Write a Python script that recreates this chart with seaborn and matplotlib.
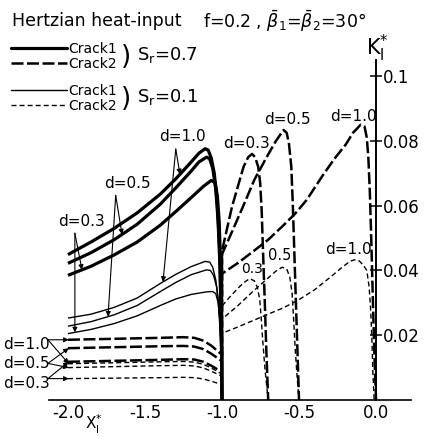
import numpy as np
import matplotlib
matplotlib.use("Agg")
import matplotlib.pyplot as plt
import seaborn as sns
from matplotlib.lines import Line2D

# ---------------- data ----------------
# Crack 1, heat source left of crack 1 (x from -2.0 to -1.0)
c1_x_s07_d10 = [-2.0, -1.85, -1.7, -1.55, -1.4, -1.3, -1.2, -1.15, -1.11, -1.09, -1.07, -1.05, -1.03, -1.015, -1.005, -1.0]
c1_y_s07_d10 = [0.0449, 0.0488, 0.0530, 0.0578, 0.0636, 0.0683, 0.0735, 0.0762, 0.0776, 0.0772, 0.0748, 0.0700, 0.0605, 0.0460, 0.0250, 0.0]
c1_x_s07_d05 = [-2.0, -1.85, -1.7, -1.55, -1.4, -1.3, -1.2, -1.15, -1.1, -1.08, -1.06, -1.04, -1.025, -1.012, -1.004, -1.0]
c1_y_s07_d05 = [0.0422, 0.0455, 0.0495, 0.0543, 0.0605, 0.0655, 0.0707, 0.0735, 0.0750, 0.0745, 0.0715, 0.0650, 0.0550, 0.0400, 0.0200, 0.0]
c1_x_s07_d03 = [-2.0, -1.85, -1.7, -1.55, -1.4, -1.3, -1.2, -1.12, -1.07, -1.045, -1.03, -1.018, -1.008, -1.002, -1.0]
c1_y_s07_d03 = [0.0385, 0.0413, 0.0448, 0.0488, 0.0540, 0.0582, 0.0625, 0.0660, 0.0678, 0.0672, 0.0630, 0.0550, 0.0400, 0.0200, 0.0]

c1_x_s01_d10 = [-2.0, -1.85, -1.7, -1.55, -1.4, -1.3, -1.2, -1.11, -1.08, -1.06, -1.04, -1.025, -1.013, -1.004, -1.0]
c1_y_s01_d10 = [0.0253, 0.0265, 0.0286, 0.0315, 0.0360, 0.0388, 0.0412, 0.0428, 0.0426, 0.0410, 0.0370, 0.0310, 0.0220, 0.0110, 0.0]
c1_x_s01_d05 = [-2.0, -1.85, -1.7, -1.55, -1.4, -1.3, -1.2, -1.1, -1.075, -1.055, -1.035, -1.02, -1.01, -1.003, -1.0]
c1_y_s01_d05 = [0.0228, 0.0242, 0.0263, 0.0292, 0.0335, 0.0363, 0.0387, 0.0402, 0.0400, 0.0385, 0.0350, 0.0290, 0.0210, 0.0100, 0.0]
c1_x_s01_d03 = [-2.0, -1.85, -1.7, -1.55, -1.4, -1.3, -1.2, -1.1, -1.06, -1.04, -1.025, -1.014, -1.006, -1.001, -1.0]
c1_y_s01_d03 = [0.0205, 0.0218, 0.0236, 0.0260, 0.0292, 0.0312, 0.0326, 0.0334, 0.0335, 0.0328, 0.0300, 0.0250, 0.0170, 0.0060, 0.0]

# Crack 2 (left part -2.0 .. -1.0, then right part -1.0 .. drop)
c2_x_s07_d10 = [-2.0, -1.8, -1.6, -1.4, -1.25, -1.18, -1.12, -1.07, -1.03, -1.0,
                -1.0, -0.9, -0.8, -0.7, -0.6, -0.526, -0.45, -0.344, -0.27, -0.195, -0.15, -0.1, -0.075, -0.06, -0.05, -0.04, -0.03, -0.02, -0.01, 0.0]
c2_y_s07_d10 = [0.0186, 0.0188, 0.0190, 0.0192, 0.0194, 0.0192, 0.0183, 0.0168, 0.0152, 0.0140,
                0.0390, 0.0422, 0.0458, 0.0495, 0.0540, 0.0575, 0.0618, 0.0695, 0.0745, 0.0790, 0.0825, 0.0850, 0.0845, 0.0810, 0.0750, 0.0640, 0.0480, 0.0300, 0.0130, 0.0]
c2_x_s07_d05 = [-2.0, -1.8, -1.6, -1.4, -1.25, -1.18, -1.12, -1.07, -1.03, -1.0,
                -1.0, -0.93, -0.864, -0.79, -0.71, -0.65, -0.6, -0.58, -0.565, -0.55, -0.54, -0.53, -0.52, -0.51, -0.5]
c2_y_s07_d05 = [0.0160, 0.0162, 0.0164, 0.0166, 0.0167, 0.0165, 0.0157, 0.0143, 0.0130, 0.0120,
                0.0450, 0.0525, 0.0597, 0.0680, 0.0750, 0.0800, 0.0834, 0.0825, 0.0790, 0.0720, 0.0600, 0.0450, 0.0300, 0.0150, 0.0]
c2_x_s07_d03 = [-2.0, -1.8, -1.6, -1.4, -1.25, -1.18, -1.12, -1.07, -1.03, -1.0,
                -1.0, -0.935, -0.86, -0.83, -0.805, -0.785, -0.765, -0.752, -0.742, -0.733, -0.722, -0.712, -0.7]
c2_y_s07_d03 = [0.0118, 0.0120, 0.0122, 0.0124, 0.0126, 0.0125, 0.0118, 0.0106, 0.0095, 0.0088,
                0.0460, 0.0597, 0.0720, 0.0750, 0.0760, 0.0750, 0.0720, 0.0670, 0.0580, 0.0450, 0.0300, 0.0150, 0.0]

c2_x_s01_d10 = [-2.0, -1.8, -1.6, -1.4, -1.25, -1.18, -1.12, -1.07, -1.03, -1.0,
                -1.0, -0.9, -0.8, -0.7, -0.6, -0.5, -0.4, -0.3, -0.22, -0.17, -0.14, -0.11, -0.08, -0.06, -0.045, -0.035, -0.027, -0.02, -0.012]
c2_y_s01_d10 = [0.0112, 0.0114, 0.0116, 0.0118, 0.0119, 0.0117, 0.0110, 0.0099, 0.0088, 0.0080,
                0.0206, 0.0225, 0.0245, 0.0265, 0.0285, 0.0310, 0.0340, 0.0378, 0.0410, 0.0428, 0.0433, 0.0430, 0.0415, 0.0400, 0.0350, 0.0280, 0.0190, 0.0080, 0.0]
c2_x_s01_d05 = [-2.0, -1.8, -1.6, -1.4, -1.25, -1.18, -1.12, -1.07, -1.03, -1.0,
                -1.0, -0.9, -0.8, -0.7, -0.65, -0.61, -0.58, -0.56, -0.545, -0.535, -0.525, -0.512, -0.5]
c2_y_s01_d05 = [0.0100, 0.0102, 0.0104, 0.0106, 0.0107, 0.0105, 0.0099, 0.0089, 0.0080, 0.0073,
                0.0250, 0.0290, 0.0335, 0.0377, 0.0398, 0.0410, 0.0405, 0.0380, 0.0330, 0.0250, 0.0160, 0.0070, 0.0]
c2_x_s01_d03 = [-2.0, -1.8, -1.6, -1.4, -1.25, -1.18, -1.12, -1.07, -1.03, -1.0,
                -1.0, -0.95, -0.9, -0.86, -0.82, -0.79, -0.77, -0.755, -0.745, -0.735, -0.72, -0.7]
c2_y_s01_d03 = [0.0066, 0.0067, 0.0068, 0.0069, 0.0070, 0.0069, 0.0065, 0.0058, 0.0052, 0.0048,
                0.0290, 0.0318, 0.0343, 0.0362, 0.0375, 0.0368, 0.0348, 0.0310, 0.0250, 0.0180, 0.0090, 0.0]

x_ticks = [-2.0, -1.5, -1.0, -0.5, 0.0]
x_tick_labels = ["-2.0", "-1.5", "-1.0", "-0.5", "0.0"]
y_ticks = [0.02, 0.04, 0.06, 0.08, 0.1]
y_tick_labels = ["0.02", "0.04", "0.06", "0.08", "0.1"]

# ---------------- styling ----------------
sns.set_theme(style="white")
plt.rcParams["font.family"] = ["DejaVu Sans"]
plt.rcParams["mathtext.fontset"] = "dejavusans"
plt.rcParams["axes.unicode_minus"] = False
for k in ["text.color", "axes.labelcolor", "xtick.color", "ytick.color", "axes.edgecolor"]:
    plt.rcParams[k] = "black"

W, H = 426, 437
fig = plt.figure(figsize=(W / 100, H / 100), dpi=100)
fig.patch.set_facecolor("white")
ax = fig.add_axes([49 / W, (H - 400) / H, (411 - 49) / W, (400 - 60) / H])
ax.set_facecolor("white")

STY = {
    "c1_s07": dict(lw=2.3, linestyle="-"),
    "c1_s01": dict(lw=1.0, linestyle="-"),
    "c2_s07": dict(lw=1.8, linestyle=(0, (4.8, 1.4))),
    "c2_s01": dict(lw=1.0, linestyle=(0, (3.6, 2.2))),
}

curves = [
    (c1_x_s07_d10, c1_y_s07_d10, "c1_s07"),
    (c1_x_s07_d05, c1_y_s07_d05, "c1_s07"),
    (c1_x_s07_d03, c1_y_s07_d03, "c1_s07"),
    (c1_x_s01_d10, c1_y_s01_d10, "c1_s01"),
    (c1_x_s01_d05, c1_y_s01_d05, "c1_s01"),
    (c1_x_s01_d03, c1_y_s01_d03, "c1_s01"),
    (c2_x_s07_d10, c2_y_s07_d10, "c2_s07"),
    (c2_x_s07_d05, c2_y_s07_d05, "c2_s07"),
    (c2_x_s07_d03, c2_y_s07_d03, "c2_s07"),
    (c2_x_s01_d10, c2_y_s01_d10, "c2_s01"),
    (c2_x_s01_d05, c2_y_s01_d05, "c2_s01"),
    (c2_x_s01_d03, c2_y_s01_d03, "c2_s01"),
]
for xs, ys, st in curves:
    sns.lineplot(x=xs, y=ys, ax=ax, sort=False, estimator=None, color="black",
                 solid_capstyle="butt", dash_capstyle="butt", **STY[st])

ax.set_xlim(-2.123, 0.227)
ax.set_ylim(0, 0.105)

ax.spines["top"].set_visible(False)
ax.spines["left"].set_visible(False)
ax.spines["right"].set_position(("data", 0))
ax.spines["right"].set_linewidth(1.4)
ax.spines["bottom"].set_linewidth(1.2)
ax.yaxis.set_ticks_position("right")
ax.set_xticks(x_ticks)
ax.set_xticklabels(x_tick_labels)
ax.set_yticks(y_ticks)
ax.set_yticklabels(y_tick_labels)
ax.tick_params(axis="x", direction="in", length=10, width=1.1, pad=3, labelsize=12)
ax.tick_params(axis="y", direction="inout", length=8, width=1.1, pad=1, labelsize=12)
ax.set_xlabel("")
ax.set_ylabel("")
ax.grid(False)

# ---------------- annotations ----------------
def cy(xs, ys, x):
    return float(np.interp(x, xs, ys))

arrow = dict(arrowstyle="-|>", lw=0.8, color="black", mutation_scale=7, shrinkA=0, shrinkB=0)
lab_fs = 11

def label_with_arrows(text, pos, start, targets, fs=lab_fs):
    ax.text(pos[0], pos[1], text, fontsize=fs, ha="center", va="center", clip_on=False)
    for t in targets:
        ax.annotate("", xy=t, xytext=start, arrowprops=arrow, annotation_clip=False)

label_with_arrows("d=1.0", (-1.26, 0.0815), (-1.30, 0.0775),
                  [(-1.273, cy(c1_x_s07_d10, c1_y_s07_d10, -1.273)),
                   (-1.383, cy(c1_x_s01_d10, c1_y_s01_d10, -1.383))])
label_with_arrows("d=0.5", (-1.617, 0.0670), (-1.69, 0.0632),
                  [(-1.649, cy(c1_x_s07_d05, c1_y_s07_d05, -1.649)),
                   (-1.74, cy(c1_x_s01_d05, c1_y_s01_d05, -1.74))])
label_with_arrows("d=0.3", (-1.909, 0.0550), (-1.955, 0.0515),
                  [(-1.909, cy(c1_x_s07_d03, c1_y_s07_d03, -1.909)),
                   (-1.955, cy(c1_x_s01_d03, c1_y_s01_d03, -1.955))])

label_with_arrows("d=1.0", (-2.27, 0.0172), (-2.13, 0.0186),
                  [(-1.995, c2_y_s07_d10[0]), (-1.995, c2_y_s01_d10[0])])
label_with_arrows("d=0.5", (-2.27, 0.0113), (-2.13, 0.0113),
                  [(-1.995, c2_y_s07_d05[0]), (-1.995, c2_y_s01_d05[0])])
label_with_arrows("d=0.3", (-2.27, 0.0052), (-2.13, 0.0066),
                  [(-1.995, c2_y_s07_d03[0]), (-1.995, c2_y_s01_d03[0])])

ax.text(-0.844, 0.0792, "d=0.3", fontsize=lab_fs, ha="center", va="center")
ax.text(-0.578, 0.0866, "d=0.5", fontsize=lab_fs, ha="center", va="center")
ax.text(-0.149, 0.0875, "d=1.0", fontsize=lab_fs, ha="center", va="center")
ax.text(-0.805, 0.0405, "0.3", fontsize=10, ha="center", va="center")
ax.text(-0.623, 0.0445, "0.5", fontsize=10.5, ha="center", va="center")
ax.text(-0.182, 0.0465, "d=1.0", fontsize=lab_fs, ha="center", va="center")

# ---------------- header, axis titles & legends ----------------
def fx(px):
    return px / W

def fy(py):
    return 1 - py / H

fig.text(fx(94), fy(436.5), r"$\mathrm{X}_\mathrm{I}^{*}$", fontsize=11, ha="center", va="bottom")
ax.text(0.01, 0.1085, r"$\mathrm{K}_\mathrm{I}^{*}$", fontsize=15, ha="center", va="center", clip_on=False)

fig.text(fx(12), fy(21), "Hertzian heat-input", fontsize=12.5, ha="left", va="center")
fig.text(fx(203), fy(21), r"f=0.2 , $\bar{\beta}_1$=$\bar{\beta}_2$=30°", fontsize=12.5, ha="left", va="center")

h1 = [Line2D([], [], color="black", **STY["c1_s07"]), Line2D([], [], color="black", **STY["c2_s07"])]
h2 = [Line2D([], [], color="black", **STY["c1_s01"]), Line2D([], [], color="black", **STY["c2_s01"])]
leg_kw = dict(frameon=False, fontsize=10, handlelength=4.0, handletextpad=0.15,
              labelspacing=0.05, borderpad=0, borderaxespad=0, loc="upper left",
              bbox_transform=fig.transFigure)
leg1 = ax.legend(h1, ["Crack1", "Crack2"], bbox_to_anchor=(fx(11), fy(42)), **leg_kw)
ax.add_artist(leg1)
leg2 = ax.legend(h2, ["Crack1", "Crack2"], bbox_to_anchor=(fx(11), fy(84)), **leg_kw)

fig.text(fx(121), fy(57), ")", fontsize=19, ha="left", va="center")
fig.text(fx(137), fy(55), r"$\mathrm{S_r}$=0.7", fontsize=13, ha="left", va="center")
fig.text(fx(121), fy(99), ")", fontsize=19, ha="left", va="center")
fig.text(fx(137), fy(97), r"$\mathrm{S_r}$=0.1", fontsize=13, ha="left", va="center")

fig.savefig("out.png", dpi=100, facecolor="white")
